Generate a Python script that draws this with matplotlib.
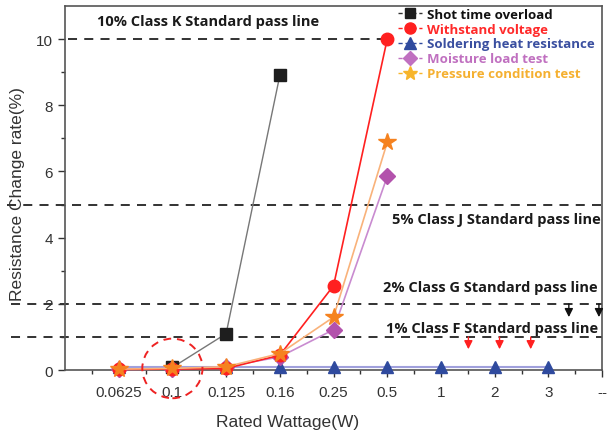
import matplotlib
matplotlib.use("Agg")
import matplotlib.pyplot as plt
from matplotlib.patches import Ellipse
from matplotlib.lines import Line2D

plt.rcParams['font.family'] = ['Liberation Sans', 'DejaVu Sans']

categories = ["0.0625", "0.1", "0.125", "0.16", "0.25", "0.5", "1", "2", "3", "--"]

shot_x = ["0.1", "0.125", "0.16"]
shot_y = [0.08, 1.1, 8.9]

withstand_x = ["0.0625", "0.1", "0.125", "0.16", "0.25", "0.5"]
withstand_y = [0.02, 0.03, 0.05, 0.45, 2.55, 10.0]

solder_x = ["0.0625", "0.1", "0.125", "0.16", "0.25", "0.5", "1", "2", "3"]
solder_y = [0.1, 0.1, 0.1, 0.1, 0.1, 0.1, 0.1, 0.1, 0.1]

moisture_x = ["0.0625", "0.1", "0.125", "0.16", "0.25", "0.5"]
moisture_y = [0.02, 0.03, 0.1, 0.4, 1.22, 5.85]

pressure_x = ["0.0625", "0.1", "0.125", "0.16", "0.25", "0.5"]
pressure_y = [0.03, 0.05, 0.1, 0.5, 1.6, 6.88]

pass_levels = [10, 5, 2, 1]
pass_labels = ["10% Class K Standard pass line", "5% Class J Standard pass line",
               "2% Class G Standard pass line", "1% Class F Standard pass line"]

pos = {c: i + 1 for i, c in enumerate(categories)}
def px(lst):
    return [pos[c] for c in lst]

BOLD = ['Open Sans', 'DejaVu Sans']

fig = plt.figure(figsize=(6.07, 4.31), dpi=100)
ax = fig.add_axes([0.107, 0.139, 0.885, 0.845])
ax.set_xlim(0, 10)
ax.set_ylim(0, 11)

# pass lines
dash = dict(color='#222222', lw=1.3, ls=(0, (5, 4)), clip_on=False, zorder=1)
ax.plot([0.05, 6.0], [pass_levels[0]] * 2, **dash)
ax.plot([-1.07, 10], [pass_levels[1]] * 2, **dash)
ax.plot([-1.0, 10], [pass_levels[2]] * 2, **dash)
ax.plot([-1.0, 10], [pass_levels[3]] * 2, **dash)

tfont = dict(fontfamily=BOLD, fontweight='bold', fontsize=10.5, color='#1a1a1a')
ax.text(0.6, 10.55, pass_labels[0], ha='left', va='center', **tfont)
ax.text(9.97, 4.55, pass_labels[1], ha='right', va='center', **tfont)
ax.text(9.92, 2.52, pass_labels[2], ha='right', va='center', **tfont)
ax.text(9.92, 1.26, pass_labels[3], ha='right', va='center', **tfont)

# series
ax.plot(px(solder_x), solder_y, '-', color='#a0a0dc', lw=1.5, marker='^', ms=9,
        mfc='#2f4a9e', mec='#2f4a9e', clip_on=False, zorder=3)
ax.plot(px(shot_x), shot_y, '-', color='#777777', lw=1.0, marker='s', ms=8,
        mfc='#1e1e1e', mec='#1e1e1e', clip_on=False, zorder=4)
ax.plot(px(moisture_x), moisture_y, '-', color='#c98bd0', lw=1.2, marker='D', ms=8,
        mfc='#b352ac', mec='#b352ac', clip_on=False, zorder=4)
ax.plot(px(pressure_x), pressure_y, '-', color='#f9b27a', lw=1.2, marker='*', ms=13,
        mfc='#f5821f', mec='#f5821f', clip_on=False, zorder=5)
ax.plot(px(withstand_x), withstand_y, '-', color='#ff2020', lw=1.2, marker='o', ms=9,
        mfc='#ff2020', mec='#ff2020', clip_on=False, zorder=4)

# red dashed circle
ax.add_patch(Ellipse((2, 0.05), 1.12, 1.8, fill=False, ec='#ee2222', lw=1.4,
                     ls=(0, (4, 3)), clip_on=False, zorder=6))

# arrows
aprops = dict(arrowstyle='-|>,head_length=0.5,head_width=0.25', lw=1.0,
              mutation_scale=10, shrinkA=0, shrinkB=0)
for x in [9.38, 9.94]:
    ax.annotate('', xy=(x, 1.6), xytext=(x, 2.0),
                arrowprops=dict(color='#111111', **aprops))
for x in [7.51, 8.09, 8.67]:
    ax.annotate('', xy=(x, 0.63), xytext=(x, 1.0),
                arrowprops=dict(color='#ff2020', **aprops))

# axes styling
ax.set_xticks(range(1, 11))
ax.set_xticklabels(categories)
ax.set_xticks([i + 0.5 for i in range(0, 10)], minor=True)
ax.set_yticks([0, 2, 4, 6, 8, 10])
ax.set_yticks([1, 3, 5, 7, 9], minor=True)
ax.tick_params(axis='both', which='major', direction='out', length=5, width=1, labelsize=11,
               colors='#333333', labelcolor='#333333')
ax.tick_params(axis='both', which='minor', direction='out', length=3, width=1, colors='#333333')
ax.tick_params(axis='x', pad=6)
for s in ax.spines.values():
    s.set_color('#555555')
    s.set_linewidth(1.2)
ax.set_xlabel('Rated Wattage(W)', fontsize=12.5, color='#333333')
ax.set_ylabel('Resistance Change rate(%)', fontsize=12.5, color='#333333')
ax.xaxis.set_label_coords(0.415, -0.12)
ax.yaxis.set_label_coords(-0.074, 0.485)

# legend
handles = [
    Line2D([], [], color='#333333', lw=1, ls=(0, (3, 2)), marker='s', ms=7, mfc='#1e1e1e', mec='#1e1e1e'),
    Line2D([], [], color='#ff2020', lw=1, ls=(0, (3, 2)), marker='o', ms=8, mfc='#ff2020', mec='#ff2020'),
    Line2D([], [], color='#2f4a9e', lw=1, ls=(0, (3, 2)), marker='^', ms=8, mfc='#2f4a9e', mec='#2f4a9e'),
    Line2D([], [], color='#c070c0', lw=1, ls=(0, (3, 2)), marker='D', ms=7, mfc='#c070c0', mec='#c070c0'),
    Line2D([], [], color='#f7b52b', lw=1, ls=(0, (3, 2)), marker='*', ms=10, mfc='#f7b52b', mec='#f7b52b'),
]
labels = ["Shot time overload", "Withstand voltage", "Soldering heat resistance",
          "Moisture load test", "Pressure condition test"]
leg = ax.legend(handles, labels, loc='upper left', bbox_to_anchor=(0.61, 1.01), frameon=False,
                handlelength=1.8, handletextpad=0.4, labelspacing=0.15, borderaxespad=0,
                prop=dict(family=BOLD, weight='bold', size=9.5))
for t, c in zip(leg.get_texts(), ['#111111', '#ff2a2a', '#3a4fa0', '#c070c0', '#f5b030']):
    t.set_color(c)

fig.savefig('out.png', dpi=100)
